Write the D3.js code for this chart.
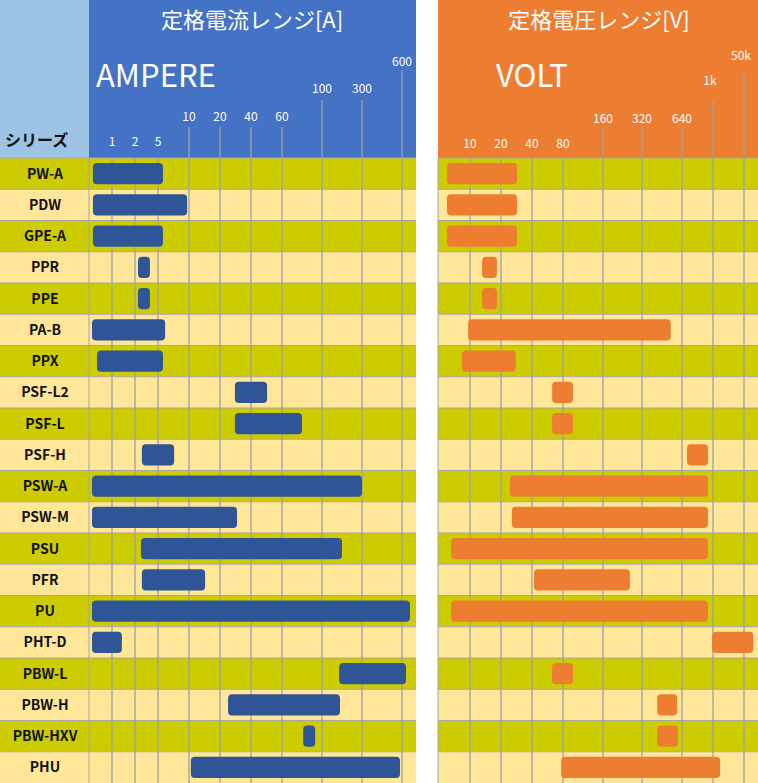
<!DOCTYPE html><html><head><meta charset="utf-8"><script src="https://cdn.jsdelivr.net/npm/d3@7"></script>
<style>body{margin:0;background:#fff}</style></head><body><svg id="c" width="758" height="783"></svg><script>
const series=["PW-A","PDW","GPE-A","PPR","PPE","PA-B","PPX","PSF-L2","PSF-L","PSF-H","PSW-A","PSW-M","PSU","PFR","PU","PHT-D","PBW-L","PBW-H","PBW-HXV","PHU"];
// ranges in tick-slot units
const ampStart=[0.17,0.17,0.17,2.13,2.13,0.13,0.35,5.48,5.48,2.3,0.13,0.13,2.26,2.3,0.13,0.13,8.43,5.26,7.53,4.06];
const ampEnd=[3.16,3.94,3.16,2.65,2.65,3.23,3.16,6.52,7.5,3.52,9.0,5.55,8.5,4.52,10.2,1.43,10.1,8.45,7.83,9.95];
const voltStart=[0.28,0.28,0.28,1.39,1.39,0.94,0.75,3.65,3.65,7.16,2.29,2.35,0.41,3.06,0.41,7.97,3.65,6.38,6.38,3.94];
const voltEnd=[2.52,2.52,2.52,1.87,1.87,6.72,2.48,4.25,4.25,7.84,7.84,7.84,7.84,5.69,7.84,9.3,4.25,6.88,6.9,8.23];
const ampTicks=["1","2","5","10","20","40","60","100","300","600"];
const ampTickLevel=[3,3,3,2,2,2,2,1,1,0];
const voltTicks=["10","20","40","80","160","320","640","1k","50k"];
const voltTickLevel=[3,3,3,3,2,2,2,1,0];
const svg=d3.select("#c");
const H0=158,H1=783;
const y=d3.scaleBand().domain(series).range([H0,H1]);
const xa=d3.scaleLinear().domain([0,1,2,3,4,5,6,7,8,9,10,10.35]).range([89,112,135,158,189,220,251,282,322,362,402,416]);
const xv=d3.scaleLinear().domain([0,1,2,3,4,5,6,7,8,9,9.45]).range([438,470,501,532,563,603,642,682,713,744,758]);
const font="'Noto Sans CJK JP','Noto Sans',sans-serif";
// headers
svg.append("rect").attr("x",0).attr("y",0).attr("width",89).attr("height",H0).attr("fill","#9DC3E6");
svg.append("rect").attr("x",89).attr("y",0).attr("width",327).attr("height",H0).attr("fill","#4472C4");
svg.append("rect").attr("x",438).attr("y",0).attr("width",320).attr("height",H0).attr("fill","#ED7D31");
// rows
series.forEach((s,i)=>{
  const c=i%2===0?"#CCCC00":"#FFE699";
  [[0,416],[438,758]].forEach(([a,b])=>svg.append("rect").attr("x",a).attr("y",y(s)).attr("width",b-a).attr("height",y.bandwidth()).attr("fill",c));
});
svg.selectAll(".rl").data(series).join("line").attr("x1",0).attr("x2",416).attr("y1",d=>y(d)).attr("y2",d=>y(d)).attr("stroke","#a6a6a6");
svg.selectAll(".rr").data(series).join("line").attr("x1",438).attr("x2",758).attr("y1",d=>y(d)).attr("y2",d=>y(d)).attr("stroke","#a6a6a6");
svg.append("line").attr("x1",89).attr("x2",89).attr("y1",H0).attr("y2",H1).attr("stroke","#a6a6a6");
const lvlLine=[70,100,127,H0], lvlText=[66,93,121,146];
const lvlLineV=[70,100,127,H0], lvlTextV=[60,85,123,148];
ampTicks.forEach((t,i)=>{
  const x=xa(i+1);
  svg.append("line").attr("x1",x).attr("x2",x).attr("y1",lvlLine[ampTickLevel[i]]).attr("y2",H1).attr("stroke","#a0a0a0").attr("stroke-width",1.3);
  svg.append("text").attr("x",x).attr("y",lvlText[ampTickLevel[i]]).attr("text-anchor","middle").attr("fill","#fff").attr("font-size",12).attr("font-family",font).text(t);
});
voltTicks.forEach((t,i)=>{
  const x=xv(i+1);
  svg.append("line").attr("x1",x).attr("x2",x).attr("y1",lvlLineV[voltTickLevel[i]]).attr("y2",H1).attr("stroke","#a0a0a0").attr("stroke-width",1.3);
  svg.append("text").attr("x",x+(voltTickLevel[i]<2?-3:0)).attr("y",lvlTextV[voltTickLevel[i]]).attr("text-anchor","middle").attr("fill","#fff").attr("font-size",12).attr("font-family",font).text(t);
});
svg.append("line").attr("x1",438).attr("x2",438).attr("y1",H0).attr("y2",H1).attr("stroke","#a6a6a6");
// bars
const pad=5;
svg.selectAll(".ba").data(series).join("rect").attr("x",(d,i)=>xa(ampStart[i])).attr("width",(d,i)=>xa(ampEnd[i])-xa(ampStart[i]))
 .attr("y",d=>y(d)+pad).attr("height",y.bandwidth()-2*pad).attr("rx",4).attr("fill","#2F5597");
svg.selectAll(".bv").data(series).join("rect").attr("x",(d,i)=>xv(voltStart[i])).attr("width",(d,i)=>xv(voltEnd[i])-xv(voltStart[i]))
 .attr("y",d=>y(d)+pad).attr("height",y.bandwidth()-2*pad).attr("rx",4).attr("fill","#ED7D31");
// labels
svg.selectAll(".lab").data(series).join("text").attr("x",45).attr("y",d=>y(d)+y.bandwidth()/2+5).attr("text-anchor","middle")
 .attr("font-size",14).attr("font-weight","bold").attr("font-family",font).attr("fill","#111").text(d=>d);
svg.append("text").attr("x",5).attr("y",146).attr("font-size",16).attr("font-weight","bold").attr("font-family",font).attr("fill","#111").text("シリーズ");
svg.append("text").attr("x",252).attr("y",28).attr("text-anchor","middle").attr("font-size",22).attr("font-family",font).attr("fill","#fff").text("定格電流レンジ[A]");
svg.append("text").attr("x",96).attr("y",87).attr("font-size",31).attr("font-family",font).attr("fill","#fff").text("AMPERE");
svg.append("text").attr("x",599).attr("y",28).attr("text-anchor","middle").attr("font-size",22).attr("font-family",font).attr("fill","#fff").text("定格電圧レンジ[V]");
svg.append("text").attr("x",496).attr("y",87).attr("font-size",31).attr("font-family",font).attr("fill","#fff").text("VOLT");
</script></body></html>
